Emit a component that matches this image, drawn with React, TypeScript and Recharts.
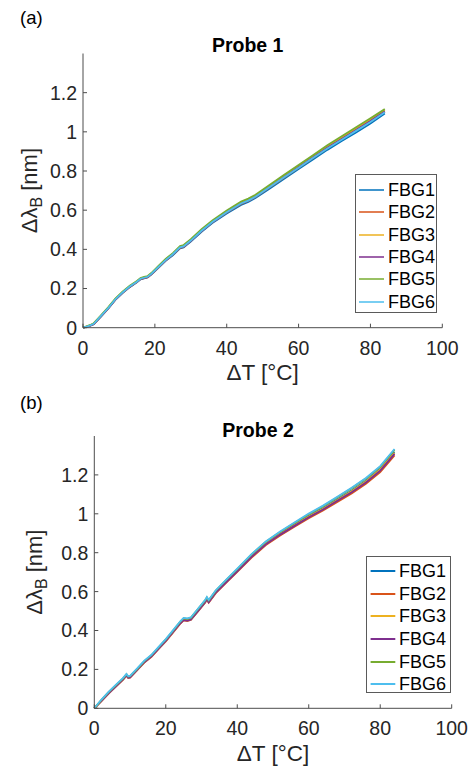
import React from 'react';
import { LineChart, Line, XAxis, YAxis, Legend } from 'recharts';

const FBG_NAMES = ['FBG1', 'FBG2', 'FBG3', 'FBG4', 'FBG5', 'FBG6'];
const FBG_COLORS = ['#0072BD', '#D95319', '#EDB120', '#7E2F8E', '#77AC30', '#4DBEEE'];
const X_TICKS = [0, 20, 40, 60, 80, 100];
const Y_TICKS = [0, 0.2, 0.4, 0.6, 0.8, 1, 1.2];

// Probe 1
const probe1Temp = [0, 1, 2, 3, 5, 7, 9, 11, 13, 15, 16, 17, 18, 19, 21, 23, 25, 27, 28, 30, 33, 36, 40, 44, 46, 48, 52, 56, 60, 64, 68, 72, 76, 80, 84];
const probe1Fbg1 = [0, 0.004, 0.01, 0.018, 0.057, 0.097, 0.142, 0.177, 0.207, 0.232, 0.247, 0.252, 0.257, 0.271, 0.306, 0.341, 0.37, 0.405, 0.41, 0.44, 0.489, 0.534, 0.583, 0.627, 0.642, 0.662, 0.711, 0.761, 0.81, 0.859, 0.908, 0.953, 0.997, 1.042, 1.094];
const probe1Fbg2 = [0, 0.005, 0.011, 0.019, 0.058, 0.098, 0.143, 0.178, 0.208, 0.233, 0.248, 0.253, 0.258, 0.273, 0.308, 0.343, 0.373, 0.408, 0.413, 0.443, 0.493, 0.538, 0.588, 0.632, 0.647, 0.667, 0.717, 0.767, 0.817, 0.866, 0.916, 0.962, 1.007, 1.052, 1.103];
const probe1Fbg3 = [0, 0.006, 0.012, 0.021, 0.061, 0.101, 0.146, 0.181, 0.211, 0.236, 0.251, 0.256, 0.261, 0.276, 0.311, 0.347, 0.377, 0.412, 0.418, 0.448, 0.498, 0.543, 0.593, 0.638, 0.653, 0.673, 0.724, 0.774, 0.824, 0.874, 0.924, 0.97, 1.016, 1.062, 1.11];
const probe1Fbg4 = [0, 0.004, 0.011, 0.019, 0.059, 0.099, 0.144, 0.179, 0.209, 0.234, 0.249, 0.254, 0.259, 0.274, 0.309, 0.344, 0.374, 0.409, 0.414, 0.444, 0.494, 0.539, 0.589, 0.634, 0.649, 0.669, 0.719, 0.769, 0.819, 0.869, 0.919, 0.964, 1.009, 1.055, 1.104];
const probe1Fbg5 = [0, 0.007, 0.014, 0.023, 0.063, 0.104, 0.149, 0.184, 0.214, 0.239, 0.254, 0.259, 0.264, 0.279, 0.315, 0.351, 0.381, 0.417, 0.422, 0.452, 0.503, 0.548, 0.598, 0.644, 0.659, 0.679, 0.73, 0.781, 0.831, 0.881, 0.931, 0.977, 1.023, 1.069, 1.116];
const probe1Fbg6 = [0, 0.005, 0.012, 0.02, 0.06, 0.1, 0.145, 0.18, 0.21, 0.235, 0.25, 0.255, 0.26, 0.275, 0.31, 0.345, 0.375, 0.41, 0.415, 0.445, 0.495, 0.54, 0.59, 0.634, 0.649, 0.669, 0.718, 0.768, 0.817, 0.866, 0.915, 0.96, 1.005, 1.05, 1.1];

// Probe 2
const probe2Temp = [0, 2, 4, 6, 8, 9, 9.5, 10, 12, 14, 16, 18, 20, 22, 24, 25, 26, 27, 29, 31, 31.5, 32, 34, 37, 40, 44, 48, 52, 56, 60, 64, 68, 72, 76, 80, 84];
const probe2Fbg1 = [0, 0.04, 0.08, 0.115, 0.15, 0.172, 0.16, 0.162, 0.2, 0.24, 0.27, 0.31, 0.35, 0.395, 0.44, 0.458, 0.455, 0.46, 0.505, 0.55, 0.565, 0.55, 0.6, 0.655, 0.71, 0.785, 0.85, 0.9, 0.945, 0.99, 1.03, 1.075, 1.12, 1.17, 1.232, 1.318];
const probe2Fbg2 = [0, 0.037, 0.076, 0.111, 0.146, 0.168, 0.156, 0.158, 0.196, 0.235, 0.265, 0.305, 0.344, 0.389, 0.434, 0.452, 0.449, 0.454, 0.498, 0.543, 0.558, 0.543, 0.592, 0.647, 0.701, 0.775, 0.839, 0.889, 0.933, 0.977, 1.017, 1.061, 1.105, 1.154, 1.214, 1.3];
const probe2Fbg3 = [0, 0.039, 0.078, 0.113, 0.148, 0.17, 0.158, 0.16, 0.198, 0.238, 0.268, 0.308, 0.347, 0.392, 0.437, 0.455, 0.452, 0.457, 0.502, 0.547, 0.562, 0.547, 0.597, 0.652, 0.706, 0.781, 0.846, 0.896, 0.941, 0.986, 1.026, 1.071, 1.116, 1.166, 1.228, 1.314];
const probe2Fbg4 = [0, 0.038, 0.077, 0.112, 0.147, 0.169, 0.157, 0.159, 0.197, 0.237, 0.267, 0.307, 0.346, 0.391, 0.436, 0.454, 0.451, 0.456, 0.5, 0.545, 0.56, 0.545, 0.595, 0.65, 0.704, 0.779, 0.843, 0.893, 0.938, 0.982, 1.022, 1.067, 1.111, 1.161, 1.222, 1.308];
const probe2Fbg5 = [0, 0.043, 0.083, 0.118, 0.153, 0.175, 0.163, 0.165, 0.203, 0.243, 0.273, 0.314, 0.354, 0.399, 0.444, 0.463, 0.46, 0.465, 0.51, 0.555, 0.57, 0.555, 0.605, 0.661, 0.716, 0.791, 0.856, 0.907, 0.953, 0.998, 1.039, 1.085, 1.131, 1.181, 1.242, 1.329];
const probe2Fbg6 = [0, 0.045, 0.085, 0.12, 0.155, 0.177, 0.165, 0.167, 0.205, 0.245, 0.275, 0.316, 0.356, 0.401, 0.446, 0.465, 0.462, 0.467, 0.512, 0.557, 0.572, 0.557, 0.607, 0.663, 0.718, 0.793, 0.858, 0.909, 0.955, 1.001, 1.042, 1.088, 1.134, 1.184, 1.245, 1.333];

const FONT = "'Liberation Sans', Arial, Helvetica, sans-serif";
const PANEL_W = 469;
const PANEL_H = 385;
const Y_AXIS_W = 60;
const X_AXIS_H = 30;

const buildRows = (temps: number[], series: number[][]) =>
    temps.map((t, i) => {
        const row: Record<string, number> = { t };
        series.forEach((s, k) => {
            row[FBG_NAMES[k]] = s[i];
        });
        return row;
    });

type PanelProps = {
    top: number;
    rows: Record<string, number>[];
    title: string;
    tag: string;
    plot: { left: number; right: number; top: number; bottom: number };
    legend: { left: number; top: number; w: number; h: number; first: number; gap: number; lineX0: number; lineX1: number; lineW: number };
    yLabelX: number;
};

const Panel: React.FC<PanelProps> = ({ top, rows, title, tag, plot, legend, yLabelX }) => {
    const margin = {
        top: plot.top,
        right: PANEL_W - plot.right,
        left: plot.left - Y_AXIS_W,
        bottom: PANEL_H - plot.bottom - X_AXIS_H,
    };
    const titleX = (plot.left + plot.right) / 2 - 15;

    const renderLegend = (props: any) => (
        <div
            style={{
                position: 'relative',
                width: legend.w,
                height: legend.h,
                border: '1px solid #5a5a5a',
                boxSizing: 'border-box',
                background: '#fff',
                fontFamily: FONT,
                fontSize: 18,
                color: '#000',
            }}
        >
            {(props.payload || []).map((p: any, i: number) => (
                <div
                    key={p.value}
                    style={{
                        position: 'absolute',
                        left: 0,
                        top: legend.first + i * legend.gap - 11,
                        height: 22,
                        display: 'flex',
                        alignItems: 'center',
                    }}
                >
                    <svg width={legend.lineX1 + 4} height={22} style={{ display: 'block' }}>
                        <line x1={legend.lineX0} x2={legend.lineX1} y1={11} y2={11} stroke={p.color} strokeWidth={legend.lineW} />
                    </svg>
                    <span style={{ lineHeight: '22px' }}>{p.value}</span>
                </div>
            ))}
        </div>
    );

    return (
        <div style={{ position: 'absolute', left: 0, top, width: PANEL_W, height: PANEL_H }}>
            <LineChart width={PANEL_W} height={PANEL_H} data={rows} margin={margin}>
                <XAxis
                    dataKey="t"
                    type="number"
                    domain={[0, 100]}
                    ticks={X_TICKS}
                    height={X_AXIS_H}
                    tickSize={-4}
                    tickMargin={17}
                    axisLine={{ stroke: '#4d4d4d', strokeWidth: 1 }}
                    tickLine={{ stroke: '#4d4d4d', strokeWidth: 1 }}
                    tick={{ fill: '#262626', fontSize: 19.5, fontFamily: FONT }}
                    label={{
                        content: ({ viewBox }: any) => (
                            <text
                                x={viewBox.x + viewBox.width / 2}
                                y={viewBox.y + 52.5}
                                textAnchor="middle"
                                fill="#262626"
                                fontSize={22.5}
                                fontFamily={FONT}
                            >
                                ΔT [°C]
                            </text>
                        ),
                    }}
                />
                <YAxis
                    type="number"
                    domain={[0, 1.4]}
                    ticks={Y_TICKS}
                    width={Y_AXIS_W}
                    tickSize={-4}
                    tickMargin={10}
                    axisLine={{ stroke: '#4d4d4d', strokeWidth: 1 }}
                    tickLine={{ stroke: '#4d4d4d', strokeWidth: 1 }}
                    tick={{ fill: '#262626', fontSize: 19.5, fontFamily: FONT }}
                    label={{
                        content: ({ viewBox }: any) => {
                            const cy = viewBox.y + viewBox.height / 2;
                            return (
                                <text
                                    x={yLabelX}
                                    y={cy}
                                    transform={`rotate(-90, ${yLabelX}, ${cy})`}
                                    textAnchor="middle"
                                    fill="#262626"
                                    fontSize={22}
                                    fontFamily={FONT}
                                >
                                    Δλ
                                    <tspan dy={5} fontSize={16}>B</tspan>
                                    <tspan dy={-5}> [nm]</tspan>
                                </text>
                            );
                        },
                    }}
                />
                <Legend
                    layout="vertical"
                    align="center"
                    verticalAlign="middle"
                    content={renderLegend}
                    wrapperStyle={{ left: legend.left, top: legend.top, width: legend.w, height: legend.h }}
                />
                {FBG_NAMES.map((name, k) => (
                    <Line
                        key={name}
                        type="linear"
                        dataKey={name}
                        stroke={FBG_COLORS[k]}
                        strokeWidth={1.8}
                        dot={false}
                        isAnimationActive={false}
                    />
                ))}
            </LineChart>
            <svg width={PANEL_W} height={PANEL_H} style={{ position: 'absolute', left: 0, top: 0, pointerEvents: 'none' }}>
                <text x={20} y={24} fontSize={18.5} fontFamily={FONT} fill="#000">
                    {tag}
                </text>
                <text x={titleX} y={52.3} textAnchor="middle" fontSize={19.5} fontWeight="bold" fontFamily={FONT} fill="#000">
                    {title}
                </text>
            </svg>
        </div>
    );
};

const probe1Rows = buildRows(probe1Temp, [probe1Fbg1, probe1Fbg2, probe1Fbg3, probe1Fbg4, probe1Fbg5, probe1Fbg6]);
const probe2Rows = buildRows(probe2Temp, [probe2Fbg1, probe2Fbg2, probe2Fbg3, probe2Fbg4, probe2Fbg5, probe2Fbg6]);

export default function App() {
    return (
        <div style={{ position: 'absolute', left: 0, top: 0, width: 469, height: 770, background: '#fff' }}>
            <Panel
                top={0}
                rows={probe1Rows}
                title="Probe 1"
                tag="(a)"
                plot={{ left: 83, right: 442.3, top: 53.5, bottom: 327.7 }}
                legend={{ left: 355, top: 174, w: 82, h: 139, first: 15, gap: 22.35, lineX0: 3, lineX1: 28, lineW: 1.5 }}
                yLabelX={37}
            />
            <Panel
                top={385}
                rows={probe2Rows}
                title="Probe 2"
                tag="(b)"
                plot={{ left: 94.3, right: 451.7, top: 51, bottom: 323.3 }}
                legend={{ left: 365.7, top: 170.7, w: 85, h: 137.6, first: 14.3, gap: 22.7, lineX0: 3.6, lineX1: 28.3, lineW: 2 }}
                yLabelX={42}
            />
        </div>
    );
}
